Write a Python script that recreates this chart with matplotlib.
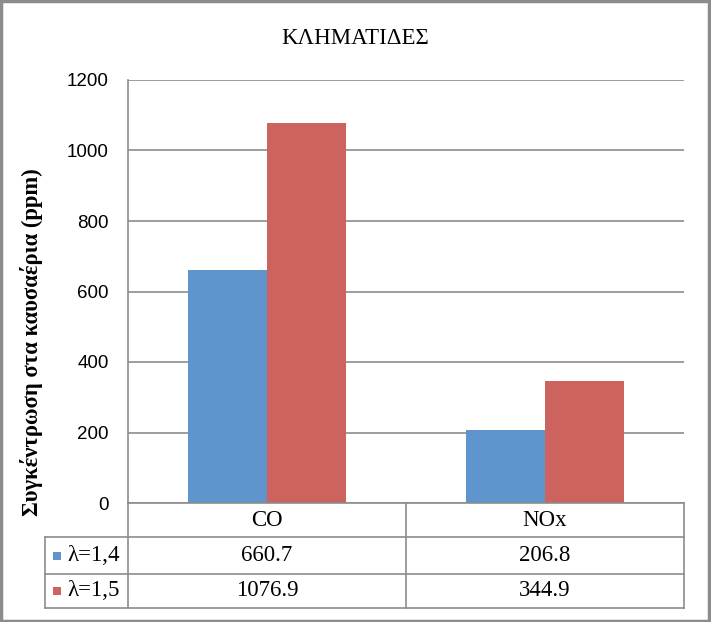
import matplotlib
matplotlib.use("Agg")
import matplotlib.pyplot as plt
from matplotlib.lines import Line2D
from matplotlib.patches import Rectangle
import numpy as np

title = "ΚΛΗΜΑΤΙΔΕΣ"
ylabel = "Συγκέντρωση στα καυσαέρια (ppm)"
categories = ["CO", "NOx"]
series_names = ["λ=1,4", "λ=1,5"]
values_l14 = [660.7, 206.8]
values_l15 = [1076.9, 344.9]
colors = ["#5F95CC", "#CD635E"]
yticks = [0, 200, 400, 600, 800, 1000, 1200]

W, H = 711, 622
fig = plt.figure(figsize=(W / 100, H / 100), dpi=100)

def fx(px):
    return px / W

def fy(py):
    return 1 - py / H

# outer border
fig.patches.append(Rectangle((fx(1), fy(621)), fx(708), 620 / H, transform=fig.transFigure,
                             fill=False, edgecolor="#8C8C8C", linewidth=2.5))

x0, x1, yb, yt = 128, 684, 503, 80
ax = fig.add_axes([fx(x0), fy(yb), fx(x1 - x0), (yb - yt) / H])
ax.set_xlim(0, len(categories))
ax.set_ylim(0, 1200)
ax.set_yticks(yticks)
ax.set_yticklabels([str(t) for t in yticks], fontfamily="Liberation Sans", fontsize=13.5)
ax.tick_params(axis="y", length=0, pad=14)
ax.tick_params(axis="x", length=0, labelbottom=False)
ax.grid(axis="y", color="#8C8C8C", linewidth=1.2)
ax.set_axisbelow(True)
for s in ["top", "right", "bottom"]:
    ax.spines[s].set_visible(False)
ax.spines["left"].set_color("#8C8C8C")
ax.spines["left"].set_linewidth(1.2)

bw = 0.284
idx = np.arange(len(categories)) + 0.5
ax.bar(idx - bw / 2, values_l14, width=bw, color=colors[0], zorder=3)
ax.bar(idx + bw / 2, values_l15, width=bw, color=colors[1], zorder=3)

fig.text(fx(355), fy(38), title, ha="center", va="center", fontfamily="Liberation Serif", fontsize=16.5)
fig.text(fx(32), fy(342), ylabel, ha="center", va="center", rotation=90,
         fontfamily="Liberation Serif", fontweight="bold", fontsize=16.3)

# data table
gc = "#8C8C8C"
lw = 1.2
rows = [503, 537, 574, 608]
colx = [45, 128, 406, 684]
def hline(y, xa, xb):
    fig.add_artist(Line2D([fx(xa), fx(xb)], [fy(y), fy(y)], color=gc, linewidth=lw))
def vline(x, ya, yb_):
    fig.add_artist(Line2D([fx(x), fx(x)], [fy(ya), fy(yb_)], color=gc, linewidth=lw))

hline(rows[0], colx[1], colx[3])
for r in rows[1:]:
    hline(r, colx[0], colx[3])
vline(colx[0], rows[1], rows[3])
for c in colx[1:]:
    vline(c, rows[0], rows[3])

tf = dict(fontfamily="Liberation Serif", fontsize=16.5, ha="center", va="center")
for j, cat in enumerate(categories):
    xc = (colx[j + 1] + colx[j + 2]) / 2
    fig.text(fx(xc), fy((rows[0] + rows[1]) / 2), cat, **tf)
    for i, vals in enumerate([values_l14, values_l15]):
        fig.text(fx(xc), fy((rows[i + 1] + rows[i + 2]) / 2), f"{vals[j]:.1f}", **tf)

for i, name in enumerate(series_names):
    yc = (rows[i + 1] + rows[i + 2]) / 2
    fig.patches.append(Rectangle((fx(53), fy(yc + 4)), fx(8), 8 / H, transform=fig.transFigure,
                                 facecolor=colors[i], edgecolor="none"))
    fig.text(fx(67), fy(yc), name, fontfamily="Liberation Serif", fontsize=16.5, ha="left", va="center")

fig.savefig("out.png", dpi=100)
